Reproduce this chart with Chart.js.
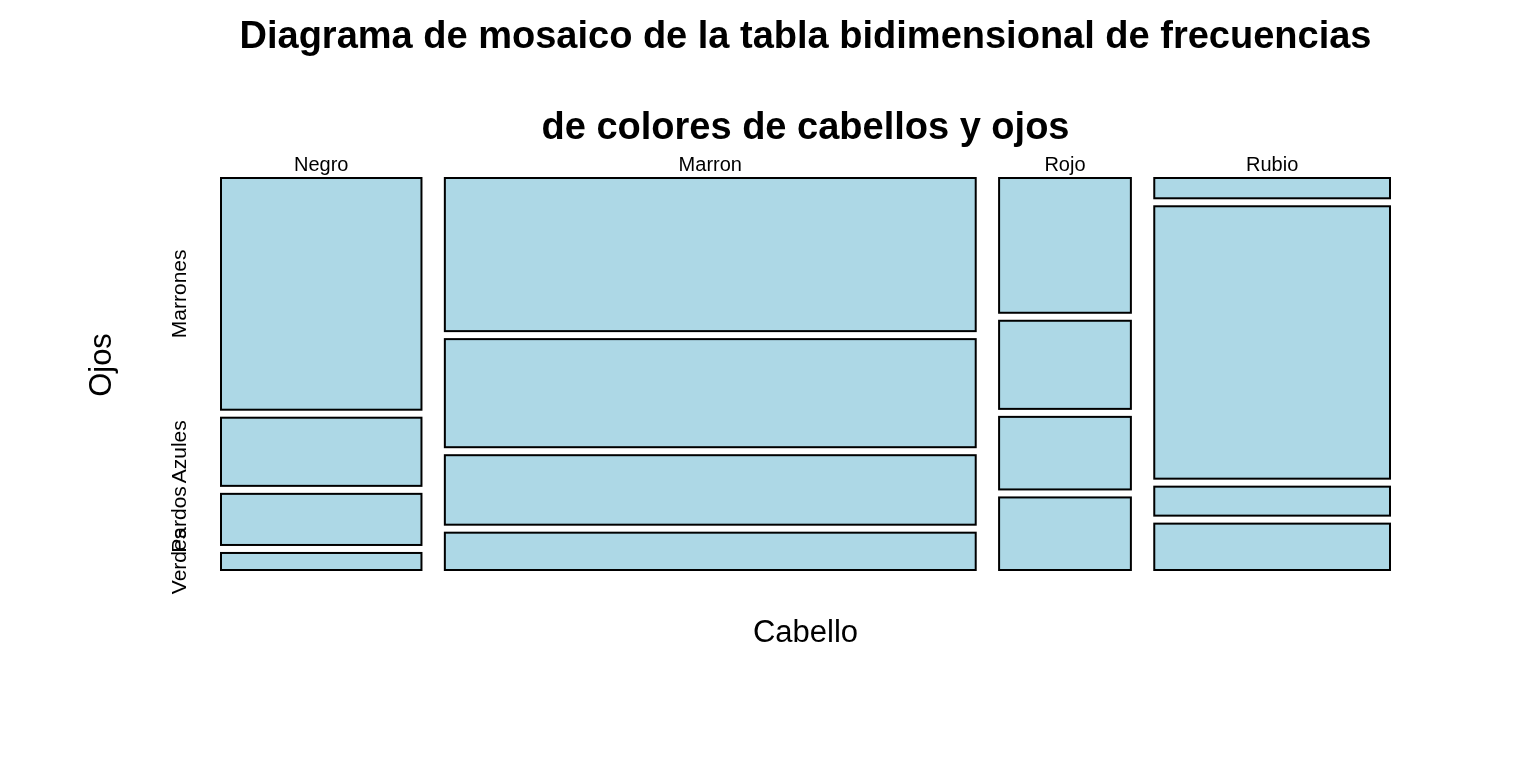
<!DOCTYPE html>
<html>
<head>
<meta charset="utf-8">
<script src="https://cdn.jsdelivr.net/npm/chart.js@4.4.0/dist/chart.umd.min.js"></script>
<style>
html,body{margin:0;padding:0;background:#fff;}
#wrap{width:1536px;height:768px;position:relative;}
</style>
</head>
<body>
<div id="wrap"><canvas id="c" width="1536" height="768"></canvas></div>
<script>
// Data (HairEyeColor summed over sex)
const hairLabels = ['Negro', 'Marron', 'Rojo', 'Rubio'];
const eyeLabels = ['Marrones', 'Azules', 'Pardos', 'Verdes'];
const eyesMarrones = [68, 119, 26, 7];
const eyesAzules = [20, 84, 17, 94];
const eyesPardos = [15, 54, 14, 10];
const eyesVerdes = [5, 29, 14, 16];
const titleLines = ['Diagrama de mosaico de la tabla bidimensional de frecuencias', 'de colores de cabellos y ojos'];
const xTitle = 'Cabello';
const yTitle = 'Ojos';

const eyeSeries = [eyesMarrones, eyesAzules, eyesPardos, eyesVerdes];
const GAP_X = 0.02, GAP_Y = 0.0204;

// Build mosaic cells in scale units (0..1 on both axes)
function buildCells() {
  const colTotals = hairLabels.map((_, i) => eyeSeries.reduce((s, a) => s + a[i], 0));
  const grand = colTotals.reduce((a, b) => a + b, 0);
  const nC = hairLabels.length, nR = eyeLabels.length;
  const usableX = 1 - GAP_X * (nC - 1);
  const usableY = 1 - GAP_Y * (nR - 1);
  const cells = [];
  let x = 0;
  for (let i = 0; i < nC; i++) {
    const w = usableX * colTotals[i] / grand;
    let y = 1; // top
    for (let j = 0; j < nR; j++) {
      const h = usableY * eyeSeries[j][i] / colTotals[i];
      cells.push({col: i, row: j, x0: x, x1: x + w, yTop: y, yBot: y - h});
      y -= h + GAP_Y;
    }
    x += w + GAP_X;
  }
  return cells;
}
const cells = buildCells();

const FONT = '"Liberation Sans", Arial, sans-serif';

const mosaicPlugin = {
  id: 'mosaic',
  afterDatasetsDraw(chart) {
    const ctx = chart.ctx;
    const xs = chart.scales.x, ys = chart.scales.y;
    const ca = chart.chartArea;
    ctx.save();
    // rectangles
    ctx.lineWidth = 2;
    ctx.strokeStyle = '#000';
    ctx.fillStyle = '#ADD8E6';
    cells.forEach(c => {
      const L = xs.getPixelForValue(c.x0), R = xs.getPixelForValue(c.x1);
      const T = ys.getPixelForValue(c.yTop), B = ys.getPixelForValue(c.yBot);
      ctx.fillRect(L, T, R - L, B - T);
      ctx.strokeRect(L, T, R - L, B - T);
    });
    ctx.fillStyle = '#000';
    // column labels
    ctx.font = '20px ' + FONT;
    ctx.textAlign = 'center';
    ctx.textBaseline = 'alphabetic';
    hairLabels.forEach((lab, i) => {
      const c = cells.find(k => k.col === i && k.row === 0);
      const cx = xs.getPixelForValue((c.x0 + c.x1) / 2);
      ctx.fillText(lab, cx, ca.top - 7);
    });
    // row labels (rotated), centered on first column cells
    eyeLabels.forEach((lab, j) => {
      const c = cells.find(k => k.col === 0 && k.row === j);
      const cy = ys.getPixelForValue((c.yTop + c.yBot) / 2);
      ctx.save();
      ctx.translate(ca.left - 35, cy);
      ctx.rotate(-Math.PI / 2);
      ctx.font = '21px ' + FONT;
      ctx.fillText(lab, 0, 0);
      ctx.restore();
    });
    // axis titles
    ctx.font = '31px ' + FONT;
    ctx.fillText(xTitle, (ca.left + ca.right) / 2, ca.bottom + 72);
    ctx.save();
    ctx.translate(ca.left - 110, (ca.top + ca.bottom) / 2 - 9);
    ctx.rotate(-Math.PI / 2);
    ctx.fillText(yTitle, 0, 0);
    ctx.restore();
    // title
    ctx.font = 'bold 38px ' + FONT;
    const tx = (ca.left + ca.right) / 2;
    ctx.fillText(titleLines[0], tx, 48);
    ctx.fillText(titleLines[1], tx, 139);
    ctx.restore();
  }
};

new Chart(document.getElementById('c'), {
  type: 'scatter',
  data: { datasets: [{ data: [] }] },
  options: {
    responsive: false,
    animation: false,
    layout: { padding: { left: 221, right: 146, top: 178, bottom: 198 } },
    plugins: { legend: { display: false }, tooltip: { enabled: false }, title: { display: false } },
    scales: {
      x: { type: 'linear', min: 0, max: 1, display: false },
      y: { type: 'linear', min: 0, max: 1, display: false }
    }
  },
  plugins: [mosaicPlugin]
});
</script>
</body>
</html>
